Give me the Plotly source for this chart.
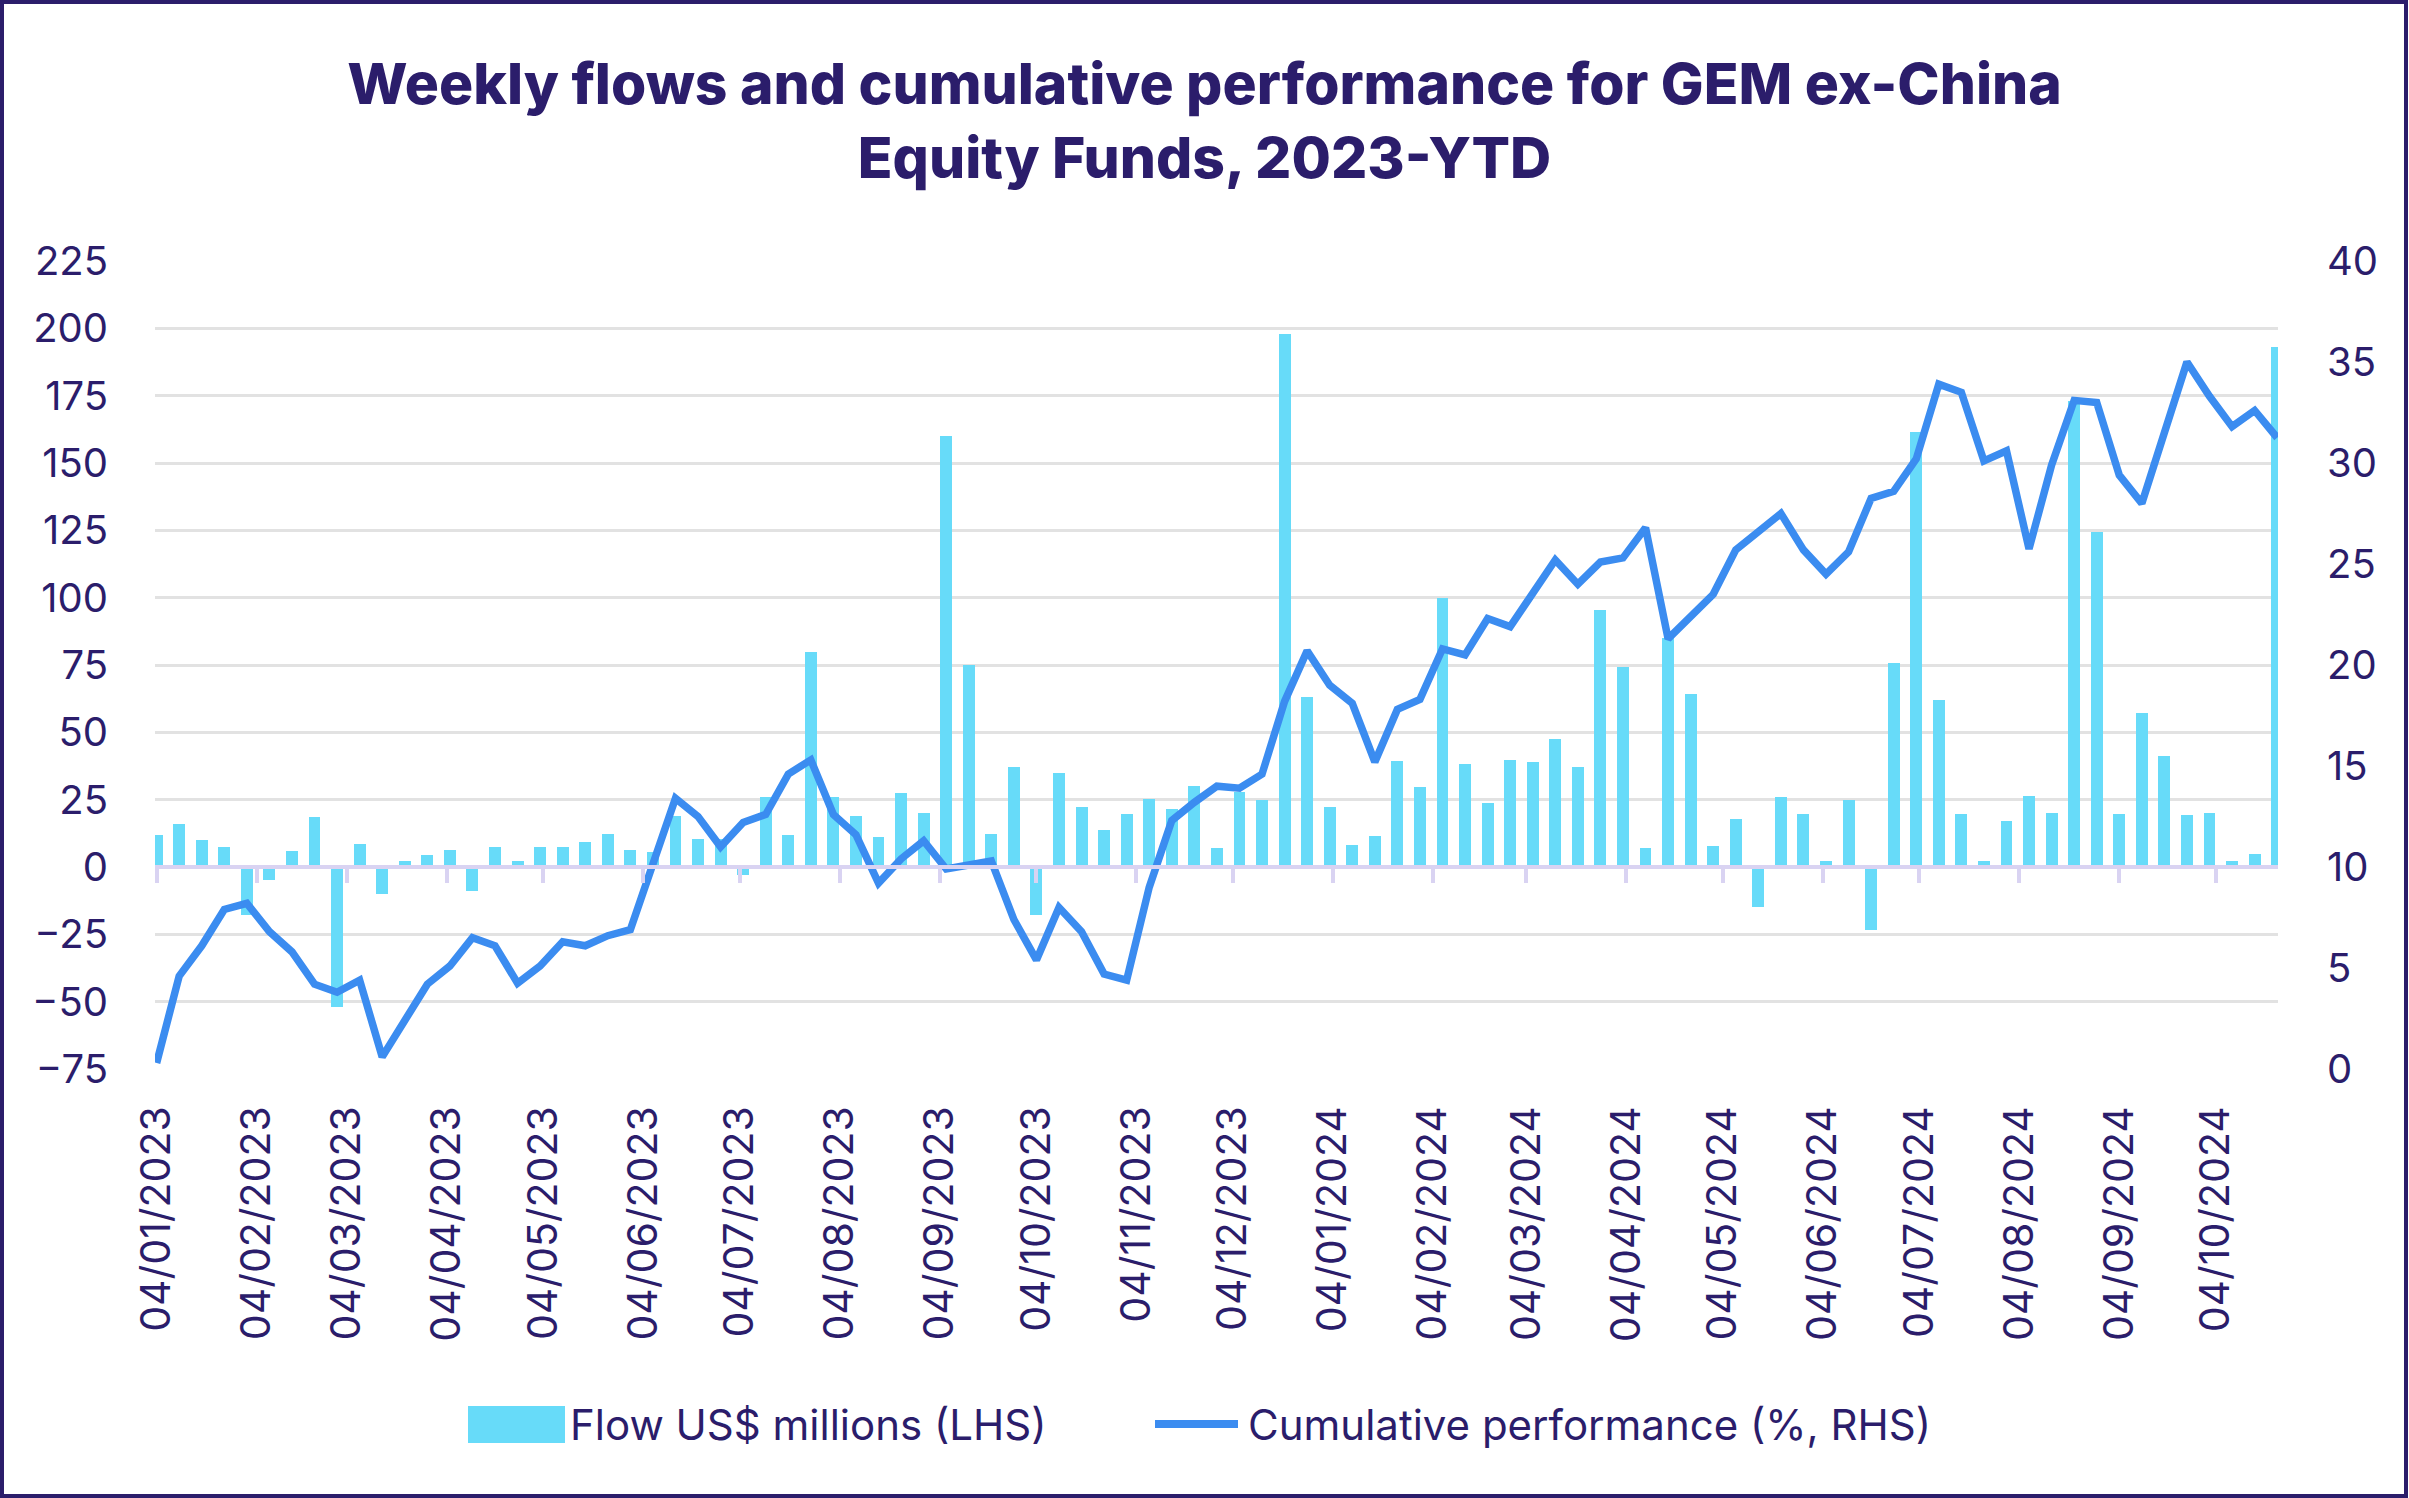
import pandas as pd
import plotly.graph_objects as go

# ---- data -------------------------------------------------------------
start_date = "2023-01-04"
n_weeks = 95
dates = pd.date_range(start_date, periods=n_weeks, freq="7D")

flows = [
    12, 16, 10, 7.5, -18, -5, 6, 18.5, -52, 8.5,
    -10, 2.3, 4.4, 6.2, -9, 7.5, 2.3, 7.5, 7.5, 9.4,
    12.3, 6.2, 5.6, 19, 10.4, 10.4, -3, 26, 12, 80,
    26, 19, 11, 27.5, 20, 160, 75, 12.3, 37.3, -18,
    35, 22.3, 13.7, 19.6, 25.2, 21.5, 30, 7, 27.7, 24.8,
    198, 63, 22.3, 8, 11.5, 39.4, 29.8, 100, 38.3, 23.7,
    39.8, 39, 47.5, 37, 95.4, 74.2, 7, 85, 64.2, 7.7,
    17.9, -14.8, 26, 19.8, 2.3, 24.8, -23.5, 75.6, 161.5, 62,
    19.6, 2.3, 17, 26.2, 20, 173, 124.4, 19.6, 57, 41.2,
    19.4, 20, 2.3, 4.8, 193,
]

performance = [
    0.3, 4.6, 6.1, 7.9, 8.2, 6.8, 5.8, 4.2, 3.8, 4.4,
    0.6, 2.4, 4.2, 5.1, 6.5, 6.1, 4.25, 5.1, 6.3, 6.1,
    6.6, 6.9, 10.1, 13.4, 12.5, 11.0, 12.2, 12.6, 14.6, 15.3,
    12.6, 11.6, 9.2, 10.4, 11.3, 9.9, 10.1, 10.3, 7.4, 5.4,
    8.0, 6.8, 4.7, 4.4, 9.0, 12.3, 13.2, 14.0, 13.9, 14.6,
    18.2, 20.7, 19.0, 18.1, 15.2, 17.8, 18.3, 20.8, 20.5, 22.3,
    21.9, 23.6, 25.2, 24.0, 25.1, 25.3, 26.8, 21.3, 22.4, 23.5,
    25.7, 26.6, 27.5, 25.7, 24.5, 25.6, 28.25, 28.6, 30.2, 33.9,
    33.5, 30.1, 30.6, 25.75, 29.9, 33.1, 33.0, 29.4, 28.0, 31.5,
    35.0, 33.3, 31.8, 32.6, 31.25,
]

title_text = "Weekly flows and cumulative performance for GEM ex-China<br>Equity Funds, 2023-YTD"
flow_name = "Flow US$ millions (LHS)"
perf_name = "Cumulative performance (%, RHS)"

lhs_ticks = list(range(-75, 226, 25))
rhs_ticks = list(range(0, 41, 5))

# ---- styling ----------------------------------------------------------
NAVY = "#2b1d6b"
BAR = "#67dbf9"
LINE = "#3b8cf0"
GRID = "#e2e2e2"
LAV = "#d9d3f2"
FONT = "Inter"
DAY_MS = 86400000

W, H = 2409, 1498
ML, MR, MT, MB = 155, 131, 261, 429
PW, PH = W - ML - MR, H - MT - MB


def px_x(px):
    return (px - ML) / PW


def px_y(py):
    return (H - MB - py) / PH


fig = go.Figure()

fig.add_trace(go.Bar(
    x=dates, y=flows, name=flow_name,
    marker=dict(color=BAR, line=dict(width=0)),
    width=3.7 * DAY_MS,
    xaxis="x", yaxis="y", showlegend=False,
))

fig.add_trace(go.Scatter(
    x=dates, y=performance, name=perf_name, mode="lines",
    line=dict(color=LINE, width=7.5, shape="linear"),
    xaxis="x", yaxis="y2", showlegend=False,
))

# invisible helper trace so the zero-axis (x2) gets drawn
fig.add_trace(go.Scatter(
    x=[], y=[], xaxis="x2", yaxis="y", showlegend=False, hoverinfo="skip",
))

x_range = ["2023-01-03 12:00", "2024-10-23 06:00"]

legend_y = 1424
shapes = [
    # outer frame
    dict(type="rect", xref="paper", yref="paper",
         x0=px_x(2), x1=px_x(2406), y0=px_y(1496), y1=px_y(2),
         line=dict(color=NAVY, width=4), fillcolor="rgba(0,0,0,0)", layer="below"),
    # legend swatch: bars
    dict(type="rect", xref="paper", yref="paper",
         x0=px_x(468), x1=px_x(565), y0=px_y(1443), y1=px_y(1406),
         line=dict(width=0), fillcolor=BAR),
    # legend swatch: line
    dict(type="line", xref="paper", yref="paper",
         x0=px_x(1155), x1=px_x(1238), y0=px_y(legend_y), y1=px_y(legend_y),
         line=dict(color=LINE, width=8)),
]

annotations = [
    dict(text=flow_name, xref="paper", yref="paper",
         x=px_x(568), y=px_y(legend_y), xanchor="left", yanchor="middle",
         showarrow=False, font=dict(family=FONT, size=42, color=NAVY)),
    dict(text=perf_name, xref="paper", yref="paper",
         x=px_x(1246), y=px_y(legend_y), xanchor="left", yanchor="middle",
         showarrow=False, font=dict(family=FONT, size=42, color=NAVY)),
]

fig.update_layout(
    width=W, height=H,
    paper_bgcolor="white", plot_bgcolor="white",
    margin=dict(l=ML, r=MR, t=MT, b=MB),
    font=dict(family=FONT, color=NAVY, size=38),
    title=dict(
        text=title_text,
        x=0.5, xref="container", xanchor="center",
        y=1 - 104 / H, yref="container", yanchor="middle",
        font=dict(family=FONT, size=57, color=NAVY, weight=800),
    ),
    bargap=0,
    showlegend=False,
    xaxis=dict(
        type="date", range=x_range,
        tick0=start_date, dtick="M1", tickformat="%d/%m/%Y",
        tickangle=-90, ticks="", showgrid=False, showline=False,
        zeroline=False, ticklabelstandoff=28,
        tickfont=dict(family=FONT, size=41, color=NAVY),
    ),
    xaxis2=dict(
        type="date", overlaying="x", matches="x", anchor="free",
        position=75 / 300,
        tick0=start_date, dtick="M1",
        showticklabels=False, showgrid=False, zeroline=False,
        showline=True, linecolor=LAV, linewidth=4,
        ticks="outside", ticklen=14, tickwidth=4, tickcolor=LAV,
    ),
    yaxis=dict(
        range=[-75, 225], tickvals=lhs_ticks,
        showgrid=True, gridcolor=GRID, gridwidth=3,
        zeroline=False, showline=False, ticks="",
        ticklabelstandoff=46,
        tickfont=dict(family=FONT, size=40, color=NAVY),
    ),
    yaxis2=dict(
        range=[0, 40], tickvals=rhs_ticks, overlaying="y", side="right",
        showgrid=False, zeroline=False, showline=False, ticks="",
        ticklabelstandoff=48,
        tickfont=dict(family=FONT, size=40, color=NAVY),
    ),
    shapes=shapes,
    annotations=annotations,
)

fig.write_html("out.html")
